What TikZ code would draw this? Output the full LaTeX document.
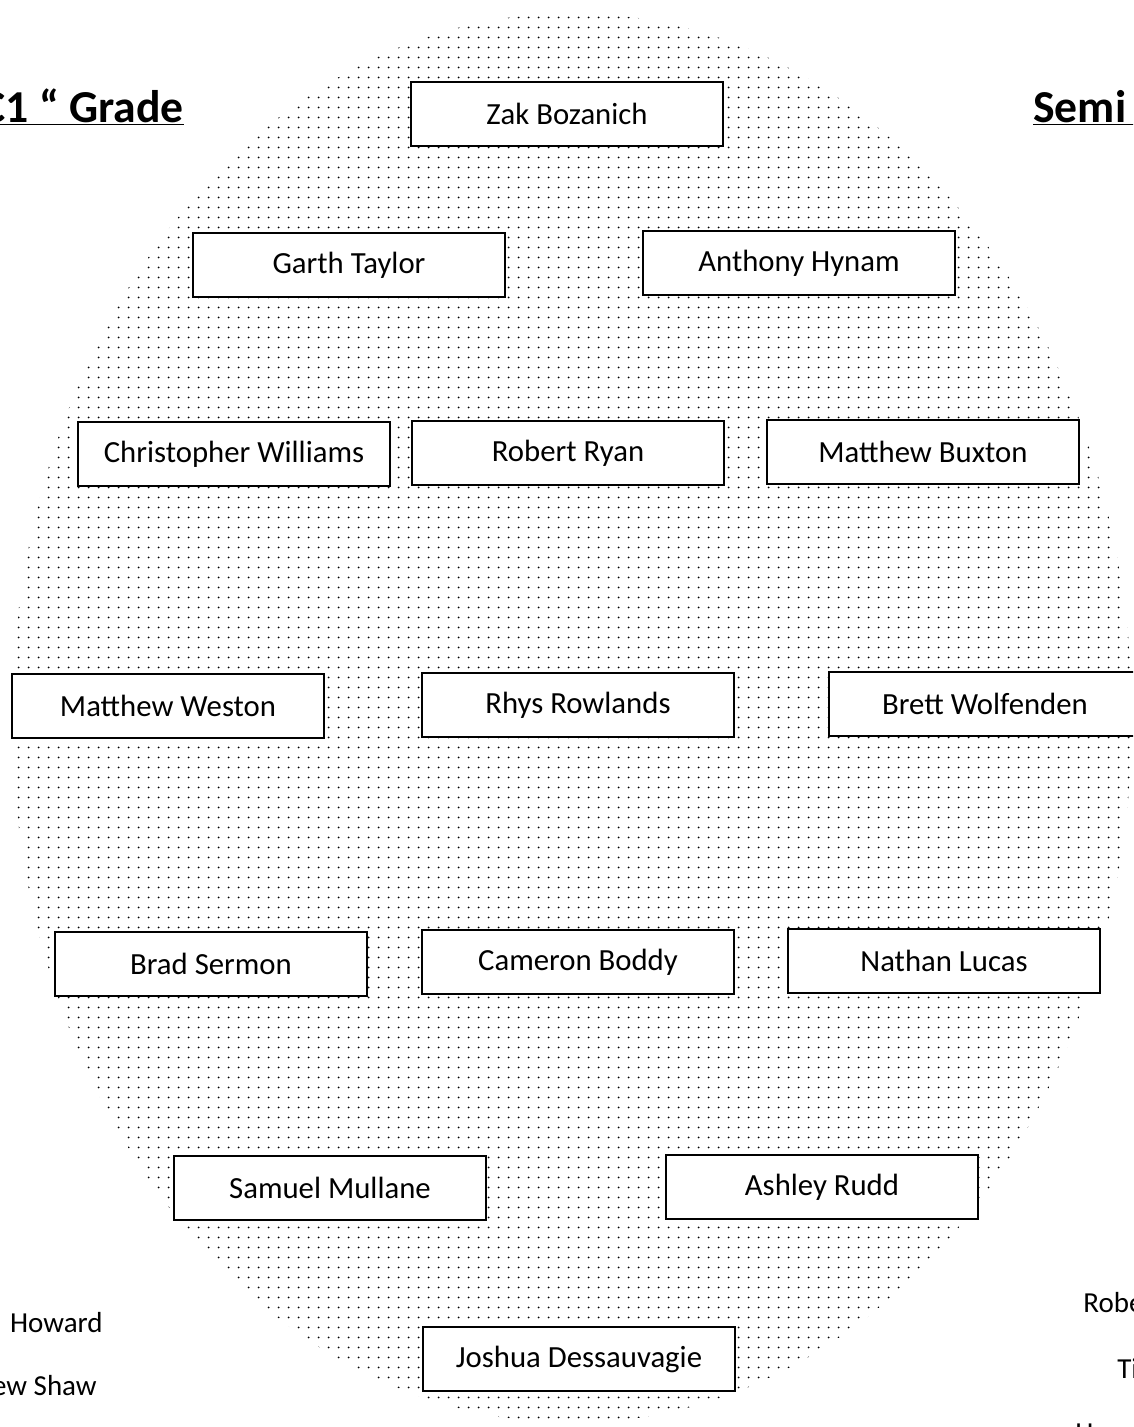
\documentclass[tikz,border=0pt]{standalone}
\usepackage{fontspec}
\setmainfont{Carlito}
\usetikzlibrary{patterns.meta}

\begin{document}
\begin{tikzpicture}[x=0.02cm, y=-0.02cm,
	player/.style={draw, thick, fill=white, minimum width=6.24cm, minimum height=1.28cm, inner sep=0pt, font=\fontsize{17.5}{20}\selectfont},
	heading/.style={inner sep=0pt, font=\fontsize{26}{30}\bfseries},
	reserve/.style={inner sep=0pt, font=\fontsize{16.5}{20}\selectfont}]

	\useasboundingbox (0,0) rectangle (1133,1427);
	\clip (0,0) rectangle (1133,1427);

	% the stippled egg behind the team
	\fill [pattern={Dots[distance=5.4pt, radius=0.6pt]}, pattern color=black] (572,718) ellipse [x radius=11.2cm, y radius=14.1cm];

	% headings
	\node [heading, anchor=base east] (grade) at (184,122) {\underline{C1 “ Grade}};
	\node [heading, anchor=base west] (semi) at (1033,122) {\underline{Semi F}};

	% the players
	\node [player] (zak) at (567,114) {Zak Bozanich};
	\node [player] (garth) at (349,265) {Garth Taylor};
	\node [player] (anthony) at (799,263) {Anthony Hynam};

	\node [player] (christopher) at (234,454) {Christopher Williams};
	\node [player] (robert) at (568,453) {Robert Ryan};
	\node [player] (buxton) at (923,452) {Matthew Buxton};

	\node [player] (weston) at (168,706) {Matthew Weston};
	\node [player] (rhys) at (578,705) {Rhys Rowlands};
	\node [player] (brett) at (985,704) {Brett Wolfenden};

	\node [player] (brad) at (211,964) {Brad Sermon};
	\node [player] (cameron) at (578,962) {Cameron Boddy};
	\node [player] (nathan) at (944,961) {Nathan Lucas};

	\node [player] (samuel) at (330,1188) {Samuel Mullane};
	\node [player] (ashley) at (822,1187) {Ashley Rudd};

	\node [player] (joshua) at (579,1359) {Joshua Dessauvagie};

	% names along the bottom edges
	\node [reserve, anchor=base east] (howard) at (103,1332) {Howard};
	\node [reserve, anchor=base east] (shaw) at (97,1395) {ew Shaw};

	\node [reserve, anchor=base west] (robe) at (1083,1312) {Robe};
	\node [reserve, anchor=base west] (ti) at (1117,1378) {Ti};
	\node [reserve, anchor=base west] (hav) at (1075,1442) {Hav};

\end{tikzpicture}
\end{document}
